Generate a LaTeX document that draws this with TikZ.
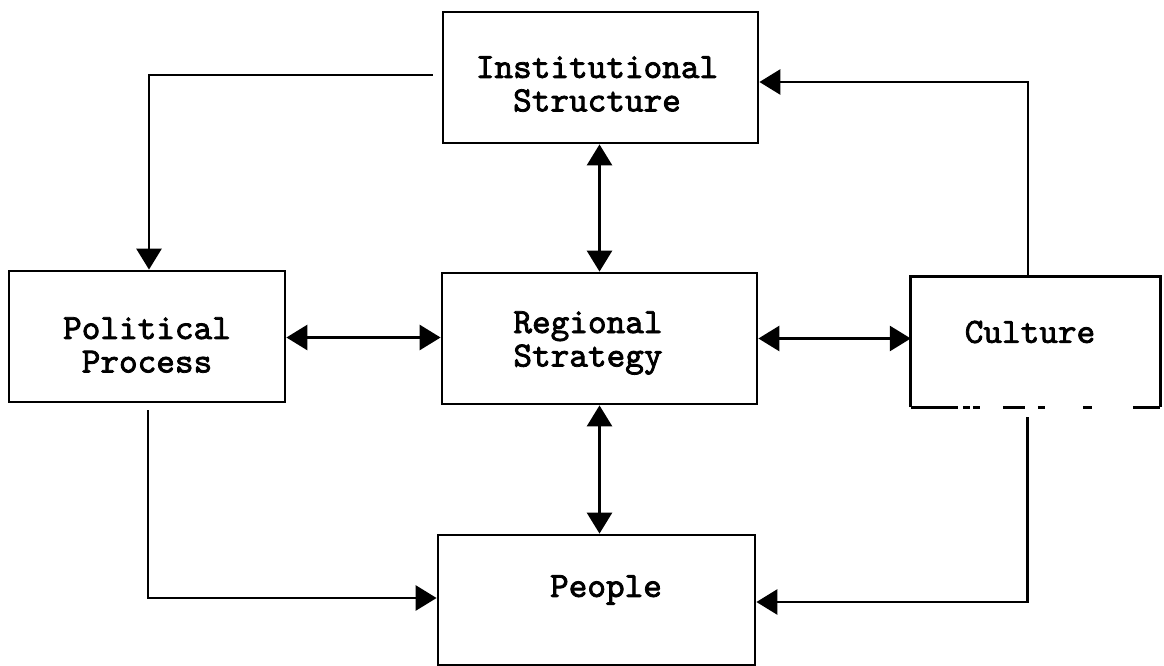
\documentclass[tikz,border=0pt]{standalone}
\usepackage{fontspec}
\newfontfamily\typewriter{lmmono10-regular.otf}[FakeBold=2.2]
\usetikzlibrary{arrows.meta,calc}
\begin{document}
\begin{tikzpicture}[x=1pt,y=-1pt]
\tikzset{
  box/.style={draw=black, line width=2.8pt, inner sep=0pt},
  lbl/.style={font=\fontsize{35.5}{33.5}\selectfont\typewriter, align=center, inner sep=0pt},
  link/.style={line width=2.8pt, -{Triangle[length=21pt,width=25pt]}},
  twoway/.style={line width=2.8pt, {Triangle[length=21pt,width=25pt]}-{Triangle[length=21pt,width=25pt]}},
}
\useasboundingbox (0,0) rectangle (1164,666);

% boxes
\node[box, minimum width=315pt, minimum height=131pt] (inst) at (600.5,77.5) {};
\node[box, minimum width=315pt, minimum height=131pt] (reg)  at (599.5,338.5) {};
\node[box, minimum width=276pt, minimum height=131pt] (pol)  at (147,336.5) {};
\node[box, minimum width=317pt, minimum height=130pt] (peo)  at (596.5,600) {};
\node[inner sep=0pt, minimum width=249pt, minimum height=130pt] (cul) at (1035.5,342) {};
\draw[line width=2.8pt] (cul.south west) -- (cul.north west) -- (cul.north east) -- (cul.south east);
\draw[line width=2.8pt, dash pattern=on 47pt off 5pt on 7pt off 3pt on 7pt off 23pt on 22pt off 13pt on 7pt off 38pt on 9pt off 41pt on 30pt]
  (cul.south west) -- (cul.south east);

% labels
\node[lbl] (insttxt) at (597,84)  {Institutional\\Structure};
\node[lbl] (regtxt)  at (588,343) {Regional\\Strategy};
\node[lbl] (poltxt)  at (147,345) {Political\\Process};
\node[lbl] (cultxt)  at (1030,332) {Culture};
\node[lbl] (peotxt)  at (606,590) {People};

% connectors
\draw[link, shorten <=9pt] ([yshift=2.5pt]inst.west) -| ([xshift=2pt]pol.north);
\draw[link] ([xshift=-7.5pt]cul.north) |- ([yshift=-4.5pt]inst.east);
\draw[twoway] (reg.north |- inst.south) -- (reg.north);
\draw[twoway] ([yshift=-1pt]pol.east) -- ([yshift=-1pt]pol.east -| reg.west);
\draw[twoway] (reg.east) -- (reg.east -| cul.west);
\draw[twoway] (reg.south) -- (reg.south |- peo.north);
\draw[link, shorten <=7pt] ([xshift=1pt]pol.south) |- ([yshift=2pt]peo.west);
\draw[link, shorten <=10pt] ([xshift=-8pt]cul.south) |- ([yshift=-2pt]peo.east);
\end{tikzpicture}
\end{document}
